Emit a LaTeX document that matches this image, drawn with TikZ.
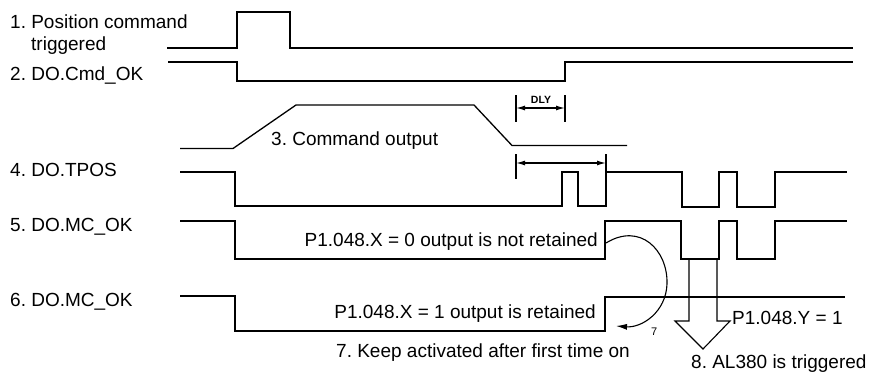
\documentclass[tikz,border=0pt]{standalone}
\usepackage{fontspec}
\setmainfont{Liberation Sans}
\usetikzlibrary{arrows.meta}
\frenchspacing

\begin{document}
\begin{tikzpicture}[x=1pt, y=-1pt, >={Latex[length=9pt,width=5pt]},
    sig/.style={line width=1.3pt},
    t/.style={inner sep=0pt, font=\fontsize{19}{22}\selectfont},
    s/.style={inner sep=0pt, font=\fontsize{11}{13}\selectfont}]
  \useasboundingbox (0,0) rectangle (870,372);

  % signal names
  \node[t, anchor=base west] (n1)  at (10,28)  {1. Position command};
  \node[t, anchor=base west] (n1b) at (31,50)  {triggered};
  \node[t, anchor=base west] (n2)  at (10,80)  {2. DO.Cmd\_OK};
  \node[t, anchor=base west] (n4)  at (10,176) {4. DO.TPOS};
  \node[t, anchor=base west] (n5)  at (10,231) {5. DO.MC\_OK};
  \node[t, anchor=base west] (n6)  at (10,306) {6. DO.MC\_OK};

  % waveforms
  \draw[sig] (167,48) -- (237,48) -- (237,12) -- (290,12) -- (290,48) -- (853,48);
  \draw[sig] (168,62) -- (237,62) -- (237,81) -- (565,81) -- (565,62) -- (853,62);
  \draw[sig] (180,148.5) -- (233,148.5) -- (296,105) -- (474,105) -- (512,145.5) -- (627,145.5);
  \draw[sig] (180,172) -- (235,172) -- (235,206) -- (562,206) -- (562,172) -- (578,172)
    -- (578,206) -- (606,206) -- (606,172) -- (682,172) -- (682,207) -- (719,207)
    -- (719,172) -- (737,172) -- (737,207) -- (775,207) -- (775,172) -- (847,172);
  \draw[sig] (180,221) -- (235,221) -- (235,259) -- (605,259) -- (605,221) -- (681,221)
    -- (681,259) -- (719,259) -- (719,221) -- (737,221) -- (737,259) -- (775,259)
    -- (775,221) -- (847,221);
  \draw[sig] (180,296) -- (235,296) -- (235,331) -- (605,331) -- (605,297) -- (845,297);

  % delay marks
  \draw[sig] (516,95) -- (516,122);
  \draw[sig] (565,95) -- (565,122);
  \coordinate (dA) at (516,108);
  \coordinate (dB) at (565,108);
  \draw[sig, <->] (dA) -- (dB);
  \node[inner sep=0pt, font=\bfseries\fontsize{10.5}{12}\selectfont, anchor=base] (dly) at (541,103) {DLY};

  \draw[sig] (516,154) -- (516,179);
  \draw[sig] (606,154) -- (606,172);
  \coordinate (wA) at (516,163);
  \coordinate (wB) at (606,163);
  \draw[sig, <->] (wA) -- (wB);

  \node[t, anchor=base west] (n3) at (271,145) {3. Command output};

  % output retention
  \node[t, anchor=base east] (x0) at (598,246) {P1.048.X = 0 output is not retained};
  \node[t, anchor=base east] (x1) at (596,318) {P1.048.X = 1 output is retained};
  \node[t, anchor=base west] (n7) at (336,357) {7. Keep activated after first time on};

  \coordinate (k0) at (606,243);
  \coordinate (k1) at (616,326);
  \draw[line width=1.1pt, -{Latex[length=11pt,width=6pt]}] (k0) .. controls (640,222) and (668,250) .. (667,284)
    .. controls (666,312) and (642,328) .. (k1);
  \node[s, anchor=base west] (k7) at (651,335) {7};

  % alarm
  \draw[line width=1.1pt] (689,259) -- (689,321) -- (675,321) -- (703,349) -- (730,321)
    -- (717,321) -- (717,259);
  \node[t, anchor=base west] (y1) at (732,324) {P1.048.Y = 1};
  \node[t, anchor=base west] (n8) at (691,368) {8. AL380 is triggered};
\end{tikzpicture}
\end{document}
